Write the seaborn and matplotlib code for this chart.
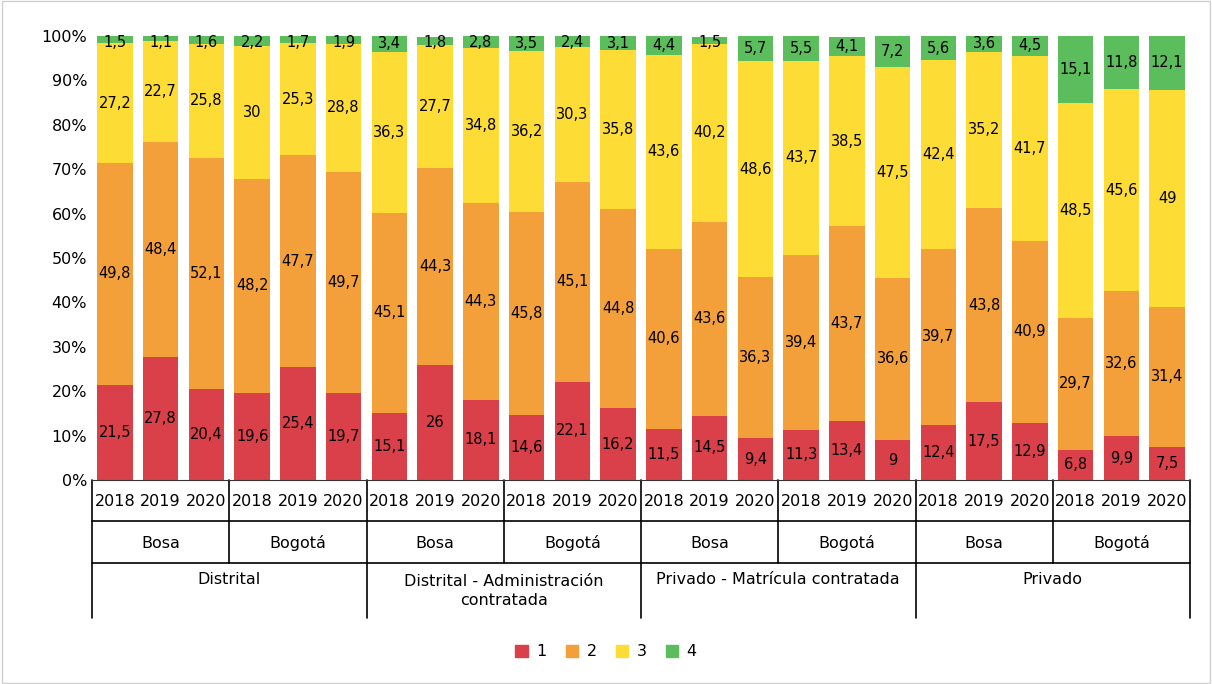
import matplotlib
matplotlib.use("Agg")
import matplotlib.pyplot as plt
import seaborn as sns
import numpy as np
import pandas as pd
from matplotlib.patches import Patch, Rectangle

groups = ["Distrital", "Distrital - Administración\ncontratada", "Privado - Matrícula contratada", "Privado"]
regions = ["Bosa", "Bogotá"]
years = ["2018", "2019", "2020"]
s1 = [21.5,27.8,20.4,19.6,25.4,19.7,15.1,26,18.1,14.6,22.1,16.2,11.5,14.5,9.4,11.3,13.4,9,12.4,17.5,12.9,6.8,9.9,7.5]
s2 = [49.8,48.4,52.1,48.2,47.7,49.7,45.1,44.3,44.3,45.8,45.1,44.8,40.6,43.6,36.3,39.4,43.7,36.6,39.7,43.8,40.9,29.7,32.6,31.4]
s3 = [27.2,22.7,25.8,30,25.3,28.8,36.3,27.7,34.8,36.2,30.3,35.8,43.6,40.2,48.6,43.7,38.5,47.5,42.4,35.2,41.7,48.5,45.6,49]
s4 = [1.5,1.1,1.6,2.2,1.7,1.9,3.4,1.8,2.8,3.5,2.4,3.1,4.4,1.5,5.7,5.5,4.1,7.2,5.6,3.6,4.5,15.1,11.8,12.1]
series = ["1", "2", "3", "4"]
colors = ["#D9404A", "#F4A03A", "#FDDC35", "#5CBD5C"]

sns.set_style("white")
plt.rcParams['font.family'] = ['DejaVu Sans']
plt.rcParams['text.color'] = 'black'
plt.rcParams['ytick.color'] = 'black'
fig = plt.figure(figsize=(12.12, 6.84), dpi=100)
ax = fig.add_axes([92/1212, 1-480/684, (1190-92)/1212, (480-36)/684])

n = len(s1)
vals = np.array([s1, s2, s3, s4])
cum = np.cumsum(vals, axis=0)
df = pd.DataFrame({"x": np.arange(n)})
for k in range(3, -1, -1):
    top = np.minimum(cum[k], 100)
    sns.barplot(x=df["x"], y=top, color=colors[k], width=0.78, saturation=1, ax=ax,
                native_scale=True, linewidth=0)
for k in range(4):
    bottoms = cum[k] - vals[k]
    for i in range(n):
        yc = (bottoms[i] + min(cum[k][i], 100)) / 2
        if k == 3:
            yc = min(yc, 98.6)
        ax.text(i, yc, f"{vals[k][i]:g}".replace(".", ","), ha="center", va="center",
                fontsize=10.5, color="black")

ax.set_xlim(-0.5, n - 0.5)
ax.set_ylim(0, 100)
ax.set_yticks(range(0, 101, 10))
ax.set_yticklabels([f"{t}%" for t in range(0, 101, 10)], fontsize=11.5)
ax.set_xticks([])
ax.set_xlabel("")
ax.tick_params(axis="y", length=0)
for s in ["top", "right", "left"]:
    ax.spines[s].set_visible(False)
ax.spines["bottom"].set_color("#333")

tr = ax.get_xaxis_transform()
def yax(py):
    return (480 - py) / 444
for i in range(n):
    ax.text(i, yax(501), years[i % 3], transform=tr, ha="center", va="center", fontsize=11.5, color="black")
for r in range(8):
    ax.text(r * 3 + 1, yax(543), regions[r % 2], transform=tr, ha="center", va="center", fontsize=11.5, color="black")
for g in range(4):
    ax.text(g * 6 + 2.5, yax(580) if "\n" not in groups[g] else yax(591), groups[g], transform=tr,
            ha="center", va="center", fontsize=11.5, linespacing=1.4, color="black")
for b in range(n + 1):
    x = b - 0.5
    if b % 6 == 0:
        yb = 618
    elif b % 3 == 0:
        yb = 563
    else:
        continue
    ax.plot([x, x], [0, yax(yb)], transform=tr, color="black", lw=1.2, clip_on=False)
ax.plot([-0.5, n - 0.5], [yax(521), yax(521)], transform=tr, color="black", lw=1.2, clip_on=False)
ax.plot([-0.5, n - 0.5], [yax(563), yax(563)], transform=tr, color="black", lw=1.2, clip_on=False)

handles = [Patch(color=c, label=s) for c, s in zip(colors, series)]
fig.legend(handles=handles, loc="center", bbox_to_anchor=(0.5, 1 - 652/684), ncol=4, frameon=False,
           fontsize=11.5, handlelength=0.8, handleheight=0.8, columnspacing=1.2, handletextpad=0.5)
fig.patches.append(Rectangle((0.002, 0.002), 0.996, 0.996, transform=fig.transFigure, fill=False,
                             edgecolor="#d0d0d0", lw=1))
fig.savefig("out.png", dpi=100)
